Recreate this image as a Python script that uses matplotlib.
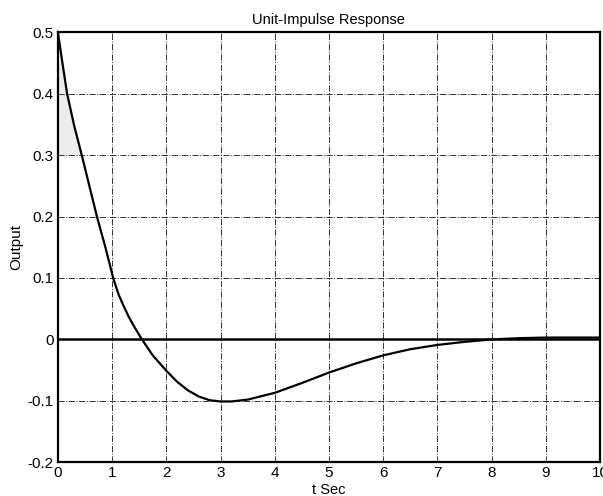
import matplotlib
matplotlib.use("Agg")
from matplotlib import pyplot as plt
import numpy as np

plt.rcParams['font.family'] = ['Liberation Sans', 'DejaVu Sans']

# impulse response
t = [0, 0.08, 0.17, 0.3, 0.44, 0.58, 0.72, 0.87, 1.02, 1.12, 1.2, 1.3, 1.4,
     1.55, 1.75, 2.0, 2.2, 2.4, 2.6, 2.8, 3.0, 3.2, 3.5, 4.0, 4.5, 5.0, 5.5,
     6.0, 6.5, 7.0, 7.5, 8.0, 8.5, 9.0, 9.5, 10.0]
y = [0.5, 0.452, 0.4, 0.348, 0.3, 0.25, 0.2, 0.152, 0.1, 0.073, 0.057, 0.038,
     0.022, 0.0, -0.026, -0.051, -0.069, -0.083, -0.093, -0.099, -0.101,
     -0.101, -0.098, -0.087, -0.071, -0.054, -0.039, -0.026, -0.016, -0.009,
     -0.004, 0.0, 0.002, 0.003, 0.003, 0.003]

xticks = np.arange(0, 11, 1)
yticks = [-0.2, -0.1, 0, 0.1, 0.2, 0.3, 0.4, 0.5]
ytick_labels = ['-0.2', '-0.1', '0', '0.1', '0.2', '0.3', '0.4', '0.5']

fig = plt.figure(figsize=(6.03, 4.96), dpi=100)
ax = fig.add_axes([0.096, 0.068, 0.899, 0.867])

# faint grey patch near the start (scan shading)
tt = np.array(t[:5])
yy = np.array(y[:5])
ax.fill_betweenx(yy, 0, tt, where=(yy <= 0.48), color='#ececec', zorder=1)

ax.grid(True, color='black', linestyle='-.', linewidth=0.7, alpha=0.8)
ax.axhline(0, color='black', linewidth=1.8, zorder=2)
ax.plot(t, y, color='black', linewidth=1.6, zorder=3)

ax.set_xlim(0, 10)
ax.set_ylim(-0.2, 0.5)
ax.set_xticks(xticks)
ax.set_yticks(yticks)
ax.set_yticklabels(ytick_labels)
ax.tick_params(length=0, labelsize=11, pad=3)
for s in ax.spines.values():
    s.set_linewidth(1.6)

ax.set_title('Unit-Impulse Response', fontsize=10.5, pad=6)
ax.set_xlabel('t Sec', fontsize=10.5, labelpad=2)
ax.set_ylabel('Output', fontsize=11, labelpad=3)

fig.savefig('out.png', dpi=100)
